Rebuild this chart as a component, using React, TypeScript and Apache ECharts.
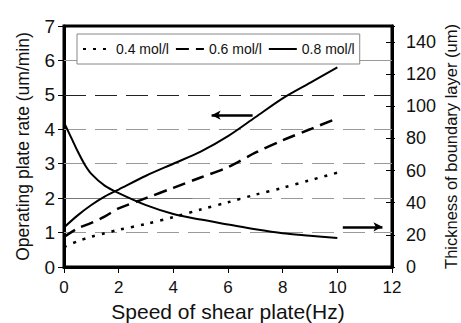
import React, { useEffect, useRef } from "react";
import * as echarts from "echarts";

const xs = [0, 0.5, 1, 1.5, 2, 3, 4, 5, 6, 7, 8, 9, 10];
const rate04 = [0.58, 0.75, 0.88, 0.98, 1.08, 1.25, 1.45, 1.67, 1.88, 2.1, 2.3, 2.52, 2.74];
const rate06 = [0.87, 1.12, 1.28, 1.47, 1.7, 2.0, 2.3, 2.6, 2.9, 3.32, 3.68, 4.0, 4.32];
const rate08 = [1.15, 1.5, 1.8, 2.05, 2.25, 2.65, 3.0, 3.35, 3.8, 4.35, 4.9, 5.35, 5.8];
const thickX = [0, 0.25, 0.5, 0.75, 1, 1.5, 2, 3, 4, 5, 6, 7, 8, 9, 10];
const thickness = [90, 81, 72, 64, 58, 50.5, 46, 38.5, 33, 29.5, 26.5, 23.5, 21, 19.5, 18];

const seriesNames = ["0.4 mol/l", "0.6 mol/l", "0.8 mol/l"];
const xName = "Speed of shear plate(Hz)";
const yLeftName = "Operating plate rate (um/min)";
const yRightName = "Thickness of boundary layer (um)";

// annotation arrows (data coordinates)
const leftArrow = { from: [6.9, 4.41], to: [5.4, 4.41] };
const rightArrow = { from: [10.2, 25], to: [11.65, 25] };

// gridline levels on left axis
const gridLevels = [1, 2, 3, 4, 5, 6];
// solid part of the y=2 gridline (scanned original)
const solidGridSegment = { from: [0, 2], to: [4.7, 2] };

const FONT = "Liberation Sans";

function pairs(x: number[], y: number[]) {
  return x.map((v, i) => [v, y[i]]);
}

export default function App() {
  const ref = useRef<HTMLDivElement>(null);
  useEffect(() => {
    if (!ref.current) return;
    document.body.style.margin = "0";
    const chart = echarts.init(ref.current, null, { renderer: "svg" });
    const gridStyle = (v: number) => {
      if (v === 6) return { color: "#999", width: 1, type: "solid" };
      if (v === 5) return { color: "#222", width: 1, type: [22, 9] };
      return { color: "#999", width: 1, type: [22, 9] };
    };
    const option: any = {
      animation: false,
      backgroundColor: "#fff",
      textStyle: { fontFamily: FONT },
      grid: {
        left: 64,
        right: 69,
        top: 26,
        bottom: 56,
        containLabel: false,
        outerBoundsMode: "none",
        show: true,
        borderColor: "#000",
        borderWidth: 3,
      },
      legend: {
        data: seriesNames,
        left: 77,
        top: 34,
        orient: "horizontal",
        itemWidth: 28,
        itemHeight: 14,
        itemGap: 6,
        padding: [7, 5],
        borderColor: "#888",
        borderWidth: 1,
        borderRadius: 0,
        backgroundColor: "#fff",
        itemStyle: { opacity: 0, borderWidth: 0 },
        textStyle: { fontSize: 14, fontFamily: FONT, color: "#111", lineHeight: 16 },
      },
      xAxis: {
        type: "value",
        min: 0,
        max: 12,
        interval: 2,
        axisLine: { lineStyle: { color: "#000", width: 3 } },
        axisTick: { length: 6, lineStyle: { color: "#000", width: 1 } },
        splitLine: { show: false },
        axisLabel: { fontSize: 17, color: "#111", fontFamily: FONT, margin: 12 },
        name: xName,
        nameLocation: "middle",
        nameGap: 34,
        nameMoveOverlap: false,
        nameTextStyle: { fontSize: 21, color: "#111", fontFamily: FONT },
      },
      yAxis: [
        {
          type: "value",
          position: "left",
          min: 0,
          max: 7,
          interval: 1,
          axisLine: { show: true, lineStyle: { color: "#000", width: 3 } },
          axisTick: { show: true, length: 6, lineStyle: { color: "#000", width: 1 } },
          splitLine: { show: false },
          axisLabel: { fontSize: 19, color: "#111", fontFamily: FONT, margin: 9 },
          name: yLeftName,
          nameLocation: "middle",
          nameGap: 32,
          nameMoveOverlap: false,
          nameTextStyle: { fontSize: 17.5, color: "#111", fontFamily: FONT },
        },
        {
          type: "value",
          position: "right",
          min: 0,
          max: 150,
          interval: 20,
          axisLine: { show: true, lineStyle: { color: "#000", width: 3 } },
          axisTick: { show: true, inside: true, length: 6, lineStyle: { color: "#000", width: 1 } },
          splitLine: { show: false },
          axisLabel: { fontSize: 18, color: "#111", fontFamily: FONT, margin: 14, showMaxLabel: false },
          name: yRightName,
          nameLocation: "middle",
          nameGap: 50,
          nameMoveOverlap: false,
          nameTextStyle: { fontSize: 16.5, color: "#111", fontFamily: FONT },
        },
        {
          type: "value",
          position: "right",
          min: 0,
          max: 150,
          interval: 20,
          axisLine: { show: false },
          axisTick: { show: true, inside: false, length: 3, lineStyle: { color: "#000", width: 1 } },
          splitLine: { show: false },
          axisLabel: { show: false },
        },
      ],
      series: [
        {
          name: seriesNames[0],
          type: "line",
          data: pairs(xs, rate04),
          symbol: "none",
          smooth: 0.3,
          z: 3,
          lineStyle: { color: "#000", width: 2.5, type: [3, 7] },
          itemStyle: { color: "#000" },
          markLine: {
            silent: true,
            symbol: "none",
            label: { show: false },
            z: 1,
            data: [
              ...gridLevels.map((v) => ({ yAxis: v, lineStyle: gridStyle(v) })),
              [
                { coord: solidGridSegment.from, lineStyle: { color: "#777", width: 1, type: "solid" } },
                { coord: solidGridSegment.to },
              ],
            ],
          },
        },
        {
          name: seriesNames[1],
          type: "line",
          data: pairs(xs, rate06),
          symbol: "none",
          smooth: 0.3,
          z: 3,
          lineStyle: { color: "#000", width: 2.5, type: [13, 7] },
          itemStyle: { color: "#000" },
        },
        {
          name: seriesNames[2],
          type: "line",
          data: pairs(xs, rate08),
          symbol: "none",
          smooth: 0.3,
          z: 3,
          lineStyle: { color: "#000", width: 2, type: "solid" },
          itemStyle: { color: "#000" },
          markLine: {
            silent: true,
            symbol: ["none", "arrow"],
            symbolSize: [7, 9],
            label: { show: false },
            lineStyle: { color: "#000", width: 2.5, type: "solid" },
            data: [[{ coord: leftArrow.from }, { coord: leftArrow.to }]],
          },
        },
        {
          name: "Thickness",
          type: "line",
          yAxisIndex: 1,
          data: pairs(thickX, thickness),
          symbol: "none",
          smooth: 0.3,
          z: 3,
          lineStyle: { color: "#000", width: 2, type: "solid" },
          itemStyle: { color: "#000" },
          markLine: {
            silent: true,
            symbol: ["none", "arrow"],
            symbolSize: [7, 9],
            label: { show: false },
            lineStyle: { color: "#000", width: 2.5, type: "solid" },
            data: [[{ coord: rightArrow.from }, { coord: rightArrow.to }]],
          },
        },
      ],
    };
    chart.setOption(option);
    return () => chart.dispose();
  }, []);
  return (
    <div
      ref={ref}
      style={{ position: "absolute", left: 0, top: 0, width: 461, height: 323 }}
    />
  );
}
